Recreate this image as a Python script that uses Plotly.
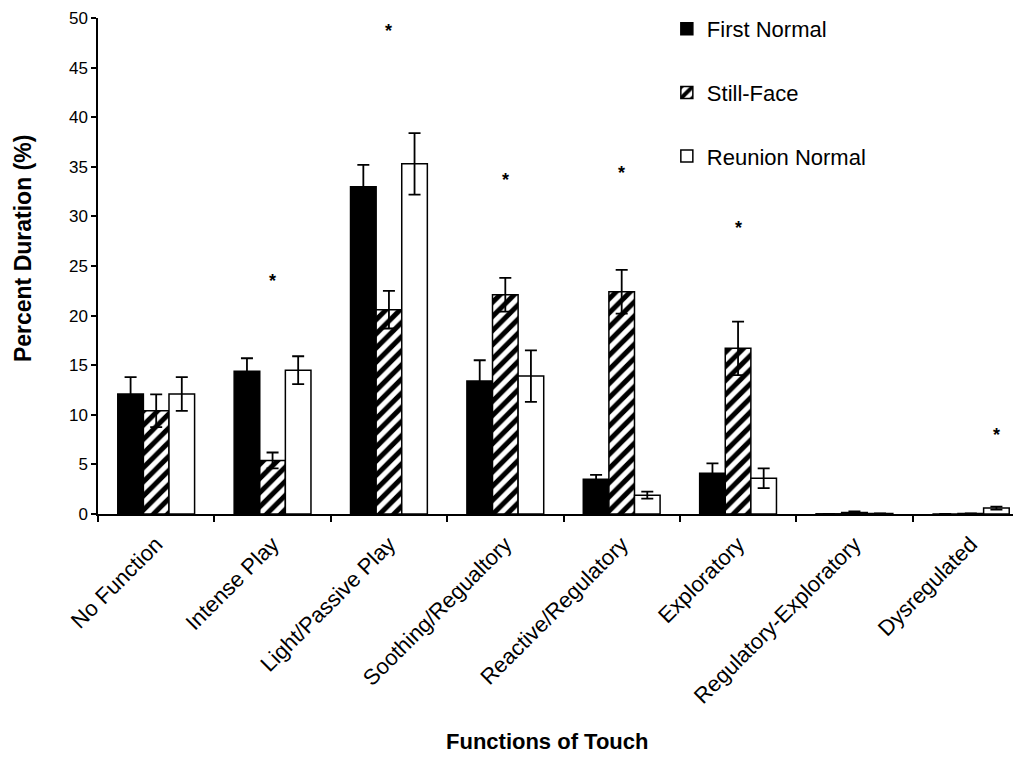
import plotly.graph_objects as go

categories = ["No Function", "Intense Play", "Light/Passive Play", "Soothing/Regualtory",
              "Reactive/Regulatory", "Exploratory", "Regulatory-Exploratory", "Dysregulated"]

first_normal = [12.1, 14.4, 33.0, 13.4, 3.5, 4.1, 0.02, 0.0]
first_normal_err = [1.7, 1.3, 2.2, 2.1, 0.45, 1.0, 0.0, 0.0]

still_face = [10.4, 5.4, 20.6, 22.1, 22.4, 16.7, 0.15, 0.05]
still_face_err = [1.65, 0.8, 1.9, 1.7, 2.2, 2.7, 0.1, 0.0]

reunion_normal = [12.1, 14.5, 35.3, 13.9, 1.9, 3.6, 0.05, 0.6]
reunion_normal_err = [1.7, 1.4, 3.1, 2.6, 0.35, 1.0, 0.0, 0.15]

# significance stars: category index, series slot (-1 first, 0 still, +1 reunion), y value
star_cat = [1, 2, 3, 4, 5, 7]
star_slot = [0, 0, 0, 0, 0, 1]
star_y = [23.5, 48.7, 33.7, 34.4, 28.8, 8.0]

y_ticks = [0, 5, 10, 15, 20, 25, 30, 35, 40, 45, 50]

FONT = "Liberation Sans, Arial, sans-serif"
bar_w = (1 - 0.34) / 3

fig = go.Figure()
err_style = dict(type="data", visible=True, color="black", thickness=1.8, width=6)

fig.add_trace(go.Bar(
    x=categories, y=first_normal, name="First Normal", legendgroup="a",
    marker=dict(color="black", line=dict(color="black", width=1.5)),
    error_y=dict(array=first_normal_err, **err_style)))
fig.add_trace(go.Bar(
    x=categories, y=still_face, name="Still-Face", legendgroup="b",
    marker=dict(color="white", line=dict(color="black", width=1.5),
                pattern=dict(shape="/", fgcolor="black", bgcolor="white", fgopacity=1,
                             size=10, solidity=0.5)),
    error_y=dict(array=still_face_err, **err_style)))
fig.add_trace(go.Bar(
    x=categories, y=reunion_normal, name="Reunion Normal", legendgroup="c",
    marker=dict(color="white", line=dict(color="black", width=1.5)),
    error_y=dict(array=reunion_normal_err, **err_style)))

for c, s, yv in zip(star_cat, star_slot, star_y):
    fig.add_annotation(x=c + s * bar_w, y=yv, text="<b>*</b>", showarrow=False,
                       xref="x", yref="y", font=dict(size=18, color="black", family=FONT))

# axis titles
fig.add_annotation(x=0.482, y=-0.458, xref="paper", yref="paper", xanchor="center", yanchor="middle",
                   text="<b>Functions of Touch</b>", showarrow=False,
                   font=dict(size=22, family=FONT, color="black"))
fig.add_annotation(x=-0.0806, y=0.536, xref="paper", yref="paper", xanchor="center", yanchor="middle",
                   text="<b>Percent Duration (%)</b>", showarrow=False, textangle=-90,
                   font=dict(size=23, family=FONT, color="black"))

fig.update_layout(
    width=1021, height=759,
    margin=dict(l=90, r=0, t=9, b=253),
    paper_bgcolor="white", plot_bgcolor="white",
    barmode="group", bargap=0.34, bargroupgap=0,
    font=dict(family=FONT, color="black"),
    legend=dict(x=0.611, y=1.02, xanchor="left", yanchor="top",
                font=dict(size=22, color="black", family=FONT),
                tracegroupgap=32, bgcolor="rgba(0,0,0,0)", itemwidth=30),
    showlegend=True,
)

fig.update_xaxes(
    type="category", range=[-0.5, 7.5], tickson="boundaries",
    showline=True, linecolor="black", linewidth=1.5,
    ticks="outside", ticklen=6, tickcolor="black", tickwidth=1.5,
    tickangle=-45, tickfont=dict(size=22, family=FONT, color="black"),
    ticklabelstandoff=7,
    showgrid=False, automargin=False,
)
fig.update_yaxes(
    range=[0, 50], tickvals=y_ticks, ticklabeloverflow="allow",
    showline=True, linecolor="black", linewidth=1.5,
    ticks="outside", ticklen=5, tickcolor="black", tickwidth=1.5,
    tickfont=dict(size=17, family=FONT, color="black"),
    showgrid=False, zeroline=False, automargin=False,
)

fig.write_html("out.html")
